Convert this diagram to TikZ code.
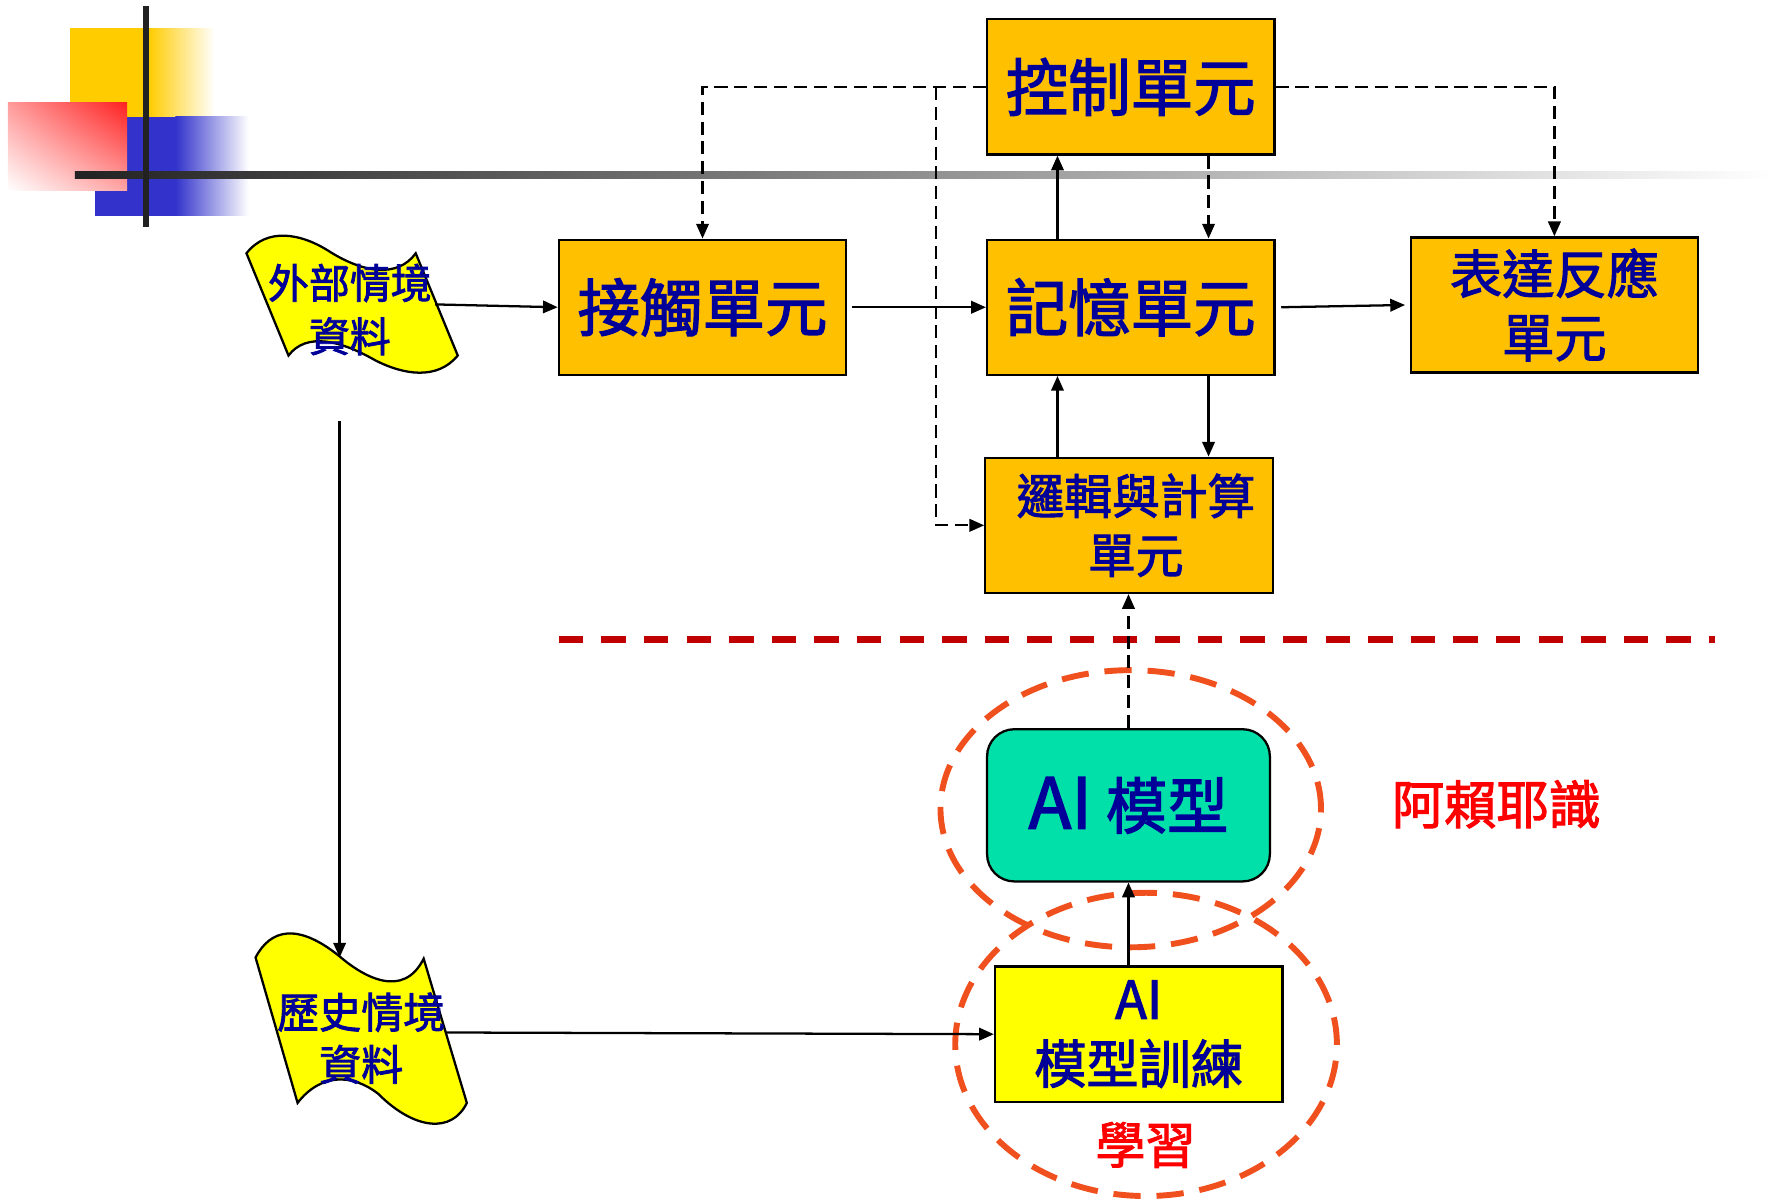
\documentclass[tikz,border=0pt]{standalone}
\usepackage{fontspec}
\newfontfamily\cjk{Noto Sans CJK TC}[UprightFeatures={FakeBold=2}]
\usetikzlibrary{arrows.meta,shadings}
\definecolor{txtblue}{RGB}{0,0,153}
\definecolor{boxorange}{RGB}{255,192,0}
\definecolor{aigreen}{RGB}{0,224,168}
\definecolor{flagyellow}{RGB}{255,255,0}
\definecolor{ellorange}{RGB}{240,80,30}
\definecolor{sepred}{RGB}{192,0,0}
\definecolor{lblred}{RGB}{255,0,0}
\definecolor{decoyellow}{RGB}{255,204,0}
\definecolor{decoblue}{RGB}{51,51,204}
\definecolor{decored}{RGB}{255,32,32}
\definecolor{decodark}{RGB}{34,34,34}
\begin{document}
\begin{tikzpicture}[x=0.5pt,y=-0.5pt,
  unitbox/.style={draw=black, line width=1pt, fill=boxorange, minimum width=126.5pt, minimum height=59.5pt, inner sep=0pt, text=txtblue, font=\cjk\fontsize{27.5}{33}\selectfont, align=center},
  arr/.style={-{Triangle[length=6.5pt,width=5.5pt]}, line width=1pt, black},
  darr/.style={-{Triangle[length=6.5pt,width=5.5pt]}, dash pattern=on 5.75pt off 3pt, line width=1pt, black},
  flagshape/.style={fill=flagyellow, draw=black, line width=1pt},
  flagtxt/.style={text=txtblue, font=\cjk\fontsize{18}{23.5}\selectfont, align=center, inner sep=0pt},
  redlbl/.style={text=lblred, font=\cjk\fontsize{23}{28}\selectfont, inner sep=0pt},
  ellipsedash/.style={draw=ellorange, line width=2.6pt, dash pattern=on 12pt off 7pt}
]
\useasboundingbox (0,0) rectangle (1568,1055);
% decoration
\fill[decoyellow] (62,25) rectangle (131,103);
\shade[left color=decoyellow, right color=white] (130.5,25) rectangle (189,103);
\fill[decoblue] (84,103) rectangle (155,190);
\shade[left color=decoblue, right color=white] (154.5,103) rectangle (219,190);
\shade[upper left=decored!45!white, upper right=decored, lower left=white, lower right=decored!40!white] (7,90) rectangle (112,168);
\shade[left color=decodark, right color=white] (66,151) rectangle (1560,157);
\fill[decodark] (125.5,5) rectangle (131,200);

% flags
\filldraw[flagshape] (217,223) .. controls (235,200) and (265,205) .. (291,222) .. controls (320,240) and (350,245) .. (366,223) -- (403,313) .. controls (385,335) and (355,330) .. (330,317) .. controls (300,300) and (270,292) .. (254,313) -- cycle;
\node[flagtxt] (f1) at (308,272.5) {外部情境\\資料};
\filldraw[flagshape] (225,843) .. controls (238,818) and (262,812) .. (299,842) .. controls (320,860) and (355,880) .. (373,844) -- (411,971) .. controls (398,998) and (365,995) .. (333,963) .. controls (310,945) and (282,945) .. (262,971) -- cycle;
\node[flagtxt, font=\cjk\fontsize{18.5}{23}\selectfont] (f2) at (318,914) {歷史情境\\資料};

% boxes
\node[unitbox] (ctrl) at (995.5,76.5) {控制單元};
\node[unitbox] (touch) at (618.5,270.5) {接觸單元};
\node[unitbox] (mem) at (995.5,270.5) {記憶單元};
\node[unitbox, font=\cjk\fontsize{23}{28}\selectfont] (expr) at (1368.5,268.5) {表達反應\\單元};
\node[unitbox, font=\cjk\fontsize{21}{26}\selectfont] (logic) at (994,462.5) {\hspace*{6pt}邏輯與計算\\\hspace*{6pt}單元};

% ellipses and separator
\draw[ellipsedash] (995.5,712) ellipse [x radius=83.75pt, y radius=61pt];
\draw[ellipsedash] (1009,919.5) ellipse [x radius=84pt, y radius=66.75pt];
\draw[sepred, line width=3pt, dash pattern=on 10.75pt off 8pt] (492,563) -- (1510,563);

\node[draw=black, line width=1pt, fill=aigreen, rounded corners=12pt, minimum width=124.5pt, minimum height=67pt, inner sep=0pt, text=txtblue, font=\cjk\fontsize{27}{32}\selectfont] (model) at (993.5,709) {{\fontsize{31}{32}\selectfont AI} 模型};
\node[unitbox, fill=flagyellow, font=\cjk\fontsize{23}{28.5}\selectfont] (train) at (1002.5,910.5) {AI\\模型訓練};

\node[redlbl] (alaya) at (1317.5,708) {阿賴耶識};
\node[redlbl, font=\cjk\fontsize{22}{26}\selectfont] (learn) at (1008.5,1008) {學習};

% connectors
\coordinate (f1r) at (383,268);
\coordinate (f2r) at (393,909);
\coordinate (vstart) at (299,371);
\coordinate (f2top) at (299,843);
\coordinate (j) at (824,76.5);
\draw[arr] (f1r) -- (touch.west);
\draw[arr] ([xshift=2pt]touch.east) -- (mem.west);
\draw[arr] ([xshift=2.5pt]mem.east) -- ([xshift=-2pt]expr.west);
\draw[arr] ([xshift=-32.25pt]mem.north) -- ([xshift=-32.25pt]ctrl.south);
\draw[darr] ([xshift=34.25pt]ctrl.south) -- ([xshift=34.25pt]mem.north);
\draw[arr] ([xshift=-32.25pt]mem.south |- logic.north) -- ([xshift=-32.25pt]mem.south);
\draw[arr] ([xshift=34.25pt]mem.south) -- ([xshift=34.25pt]mem.south |- logic.north);
\draw[darr] (ctrl.west) -| (touch.north);
\draw[darr] (ctrl.east) -| (expr.north);
\draw[darr] (j) |- (logic.west);
\draw[darr] (model.north) -- (model.north |- logic.south);
\draw[arr] (model.south |- train.north) -- (model.south);
\draw[arr] (vstart) -- (f2top);
\draw[arr] (f2r) -- (train.west);
\end{tikzpicture}
\end{document}
